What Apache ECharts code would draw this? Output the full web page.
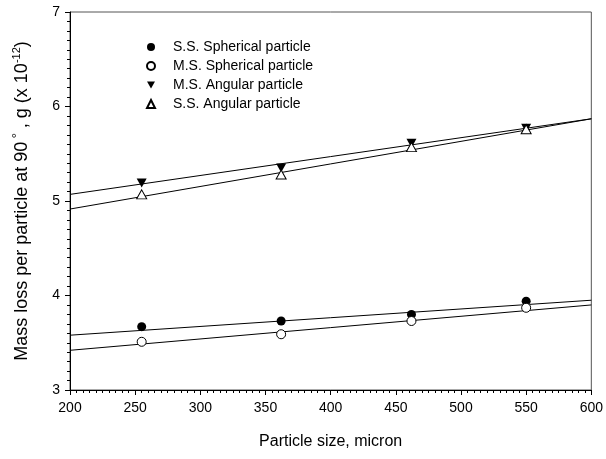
<!DOCTYPE html>
<html>
<head>
<meta charset="utf-8">
<script src="https://cdn.jsdelivr.net/npm/echarts@6/dist/echarts.min.js"></script>
<style>
	html, body { margin: 0; padding: 0; background: #fff; }
	#chart { width: 606px; height: 459px; }
</style>
</head>
<body>
<div id="chart"></div>
<script>
// particle sizes where the measurements were taken
const sizes = [255, 362, 462, 550]

const ssSpherical = [3.67, 3.73, 3.80, 3.94]
const msSpherical = [3.51, 3.59, 3.73, 3.87]
const msAngular = [5.19, 5.35, 5.61, 5.77]
const ssAngular = [5.07, 5.28, 5.57, 5.76]

// fitted lines, read at both ends of the axis
const fitX = [200, 600]
const ssSphericalFit = [3.58, 3.95]
const msSphericalFit = [3.42, 3.90]
const msAngularFit = [5.07, 5.87]
const ssAngularFit = [4.915, 5.87]

const pairs = (xs, ys) => xs.map((x, i) => [x, ys[i]])

const downTriangle = 'path://M0,0 L10,0 L5,9 Z'
const font = 'Liberation Sans, Arial'

const chart = echarts.init(document.getElementById('chart'))

const fitLine = (ys) => ({
	type: 'line',
	data: pairs(fitX, ys),
	symbol: 'none',
	lineStyle: { color: '#000', width: 1 },
	silent: true,
	z: 1
})

const option = {
	animation: false,
	grid: {
		left: 70,
		right: 13,
		top: 12,
		bottom: 69,
		show: true,
		borderColor: '#555',
		borderWidth: 1
	},
	legend: {
		orient: 'vertical',
		left: 146,
		top: 40,
		padding: 0,
		itemWidth: 8,
		itemHeight: 8,
		itemGap: 5,
		textStyle: {
			fontFamily: font,
			fontSize: 14,
			color: '#000',
			padding: [0, 0, 0, 13]
		},
		data: ['S.S. Spherical particle', 'M.S. Spherical particle', 'M.S. Angular particle', 'S.S. Angular particle']
	},
	xAxis: {
		type: 'value',
		min: 200,
		max: 600,
		interval: 50,
		name: 'Particle size, micron',
		nameLocation: 'middle',
		nameGap: 44,
		nameTextStyle: { fontFamily: font, fontSize: 16, color: '#000' },
		axisLine: { lineStyle: { color: '#000', width: 1 } },
		axisTick: { length: 5, lineStyle: { color: '#000' } },
		minorTick: { show: true, splitNumber: 10, length: 3, lineStyle: { color: '#000' } },
		axisLabel: { fontFamily: font, fontSize: 14, color: '#000', margin: 11 },
		splitLine: { show: false }
	},
	yAxis: {
		type: 'value',
		min: 3,
		max: 7,
		interval: 1,
		name: '{t|Mass loss per particle at 90} {d|°}{t| , g (x 10}{s|-12}{t|)}',
		nameLocation: 'middle',
		nameGap: 37,
		nameRotate: 90,
		nameTextStyle: {
			color: '#000',
			rich: {
				t: { fontFamily: font, fontSize: 18, color: '#000', lineHeight: 22 },
				d: { fontFamily: font, fontSize: 13, color: '#000', verticalAlign: 'top', lineHeight: 22 },
				s: { fontFamily: font, fontSize: 11, color: '#000', verticalAlign: 'top', lineHeight: 22 }
			}
		},
		axisLine: { show: true, lineStyle: { color: '#000', width: 1 } },
		axisTick: { show: true, length: 5, lineStyle: { color: '#000' } },
		minorTick: { show: true, splitNumber: 10, length: 3, lineStyle: { color: '#000' } },
		axisLabel: { fontFamily: font, fontSize: 14, color: '#000', margin: 10 },
		splitLine: { show: false }
	},
	series: [
		fitLine(ssSphericalFit),
		fitLine(msSphericalFit),
		fitLine(msAngularFit),
		fitLine(ssAngularFit),
		{
			name: 'S.S. Spherical particle',
			type: 'scatter',
			data: pairs(sizes, ssSpherical),
			symbol: 'circle',
			symbolSize: 9,
			itemStyle: { color: '#000', opacity: 1 },
			z: 3
		},
		{
			name: 'M.S. Spherical particle',
			type: 'scatter',
			data: pairs(sizes, msSpherical),
			symbol: 'circle',
			symbolSize: 9,
			itemStyle: { color: '#fff', borderColor: '#000', borderWidth: 1, opacity: 1 },
			z: 3
		},
		{
			name: 'M.S. Angular particle',
			type: 'scatter',
			data: pairs(sizes, msAngular),
			symbol: downTriangle,
			symbolSize: [10, 9],
			itemStyle: { color: '#000', opacity: 1 },
			z: 3
		},
		{
			name: 'S.S. Angular particle',
			type: 'scatter',
			data: pairs(sizes, ssAngular),
			symbol: 'triangle',
			symbolSize: [10, 9],
			itemStyle: { color: '#fff', borderColor: '#000', borderWidth: 1, opacity: 1 },
			z: 3
		}
	]
}

chart.setOption(option)
</script>
</body>
</html>
